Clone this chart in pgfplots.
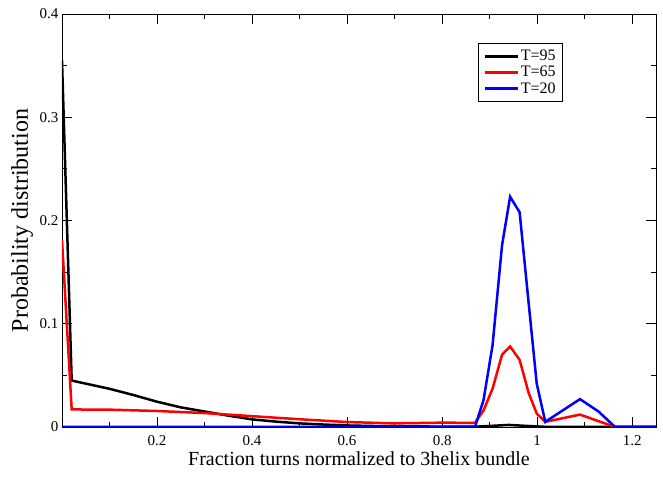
\documentclass[border=0pt]{standalone}
\usepackage{fontspec}
\setmainfont{Liberation Serif}
\usepackage{pgfplots}
\pgfplotsset{compat=1.18}
\begin{document}
\begin{tikzpicture}
\useasboundingbox (-62pt,-51pt) rectangle (601pt,427pt);
\begin{axis}[
  name=ax,
  at={(0pt,0pt)}, anchor=south west,
  scale only axis,
  width=594pt, height=413pt,
  xmin=0, xmax=1.25, ymin=0, ymax=0.4,
  xtick={0.2,0.4,0.6,0.8,1,1.2},
  xticklabels={0.2,0.4,0.6,0.8,1,1.2},
  minor xtick={0.1,0.3,0.5,0.7,0.9,1.1},
  ytick={0,0.1,0.2,0.3,0.4},
  yticklabels={0,0.1,0.2,0.3,0.4},
  minor ytick={0.05,0.15,0.25,0.35},
  tick align=inside,
  tick pos=both,
  major tick length=10pt,
  minor tick length=5pt,
  every tick/.style={black, line width=0.8pt},
  axis line style={line width=0.8pt},
  /pgf/number format/assume math mode=true,
  tick label style={font=\fontsize{15}{17}\selectfont},
  xticklabel style={anchor=base, yshift=-19pt},
  xlabel={Fraction turns normalized to 3helix bundle},
  ylabel={Probability distribution},
  xlabel style={font=\fontsize{20}{22}\selectfont, at={(axis description cs:0.5,0)}, anchor=base, yshift=-38pt},
  ylabel style={font=\fontsize{24}{26}\selectfont, at={(axis description cs:0,0.5)}, anchor=base, yshift=34pt},
  legend style={at={(0.7003,0.93)}, anchor=north west, draw=black, line width=0.6pt,
    font=\fontsize{16}{18}\selectfont, row sep=0pt, inner xsep=5pt, inner ysep=5pt},
  legend cell align=left,
  legend image code/.code={\draw[#1, line width=2.4pt] (0pt,0pt) -- (24pt,0pt); \path (0pt,0pt) -- (33pt,0pt);},
]
\addplot[black, line width=2.5pt] coordinates {
(0,0.355) (0.0204,0.045) (0.05,0.042) (0.1,0.037) (0.15,0.031) (0.2,0.0245) (0.25,0.019)
(0.3,0.015) (0.35,0.011) (0.4,0.0074) (0.45,0.0052) (0.5,0.0035) (0.55,0.0024) (0.6,0.0015)
(0.65,0.001) (0.7,0.0007) (0.8,0.0004) (0.869,0.0003) (0.9,0.001) (0.94,0.002) (0.98,0.001)
(1.017,0.0002) (1.1,0) (1.25,0)};
\addlegendentry{T=95}
\addplot[red, line width=2.5pt] coordinates {
(0,0.181) (0.0204,0.017) (0.1,0.0168) (0.2,0.0155) (0.3,0.0135) (0.4,0.0105) (0.5,0.0075)
(0.6,0.0048) (0.7,0.0035) (0.8,0.0042) (0.869,0.004) (0.887,0.016) (0.906,0.037) (0.926,0.07)
(0.943,0.078) (0.963,0.065) (0.982,0.033) (0.999,0.013) (1.017,0.005) (1.09,0.012)
(1.164,0) (1.25,0)};
\addlegendentry{T=65}
\addplot[blue, line width=2.5pt] coordinates {
(0,0) (0.869,0) (0.887,0.026) (0.906,0.079) (0.926,0.176) (0.943,0.223) (0.963,0.208)
(0.982,0.12) (0.999,0.042) (1.017,0.005) (1.09,0.027) (1.129,0.015) (1.164,0) (1.25,0)};
\addlegendentry{T=20}
\end{axis}
\end{tikzpicture}
\end{document}
